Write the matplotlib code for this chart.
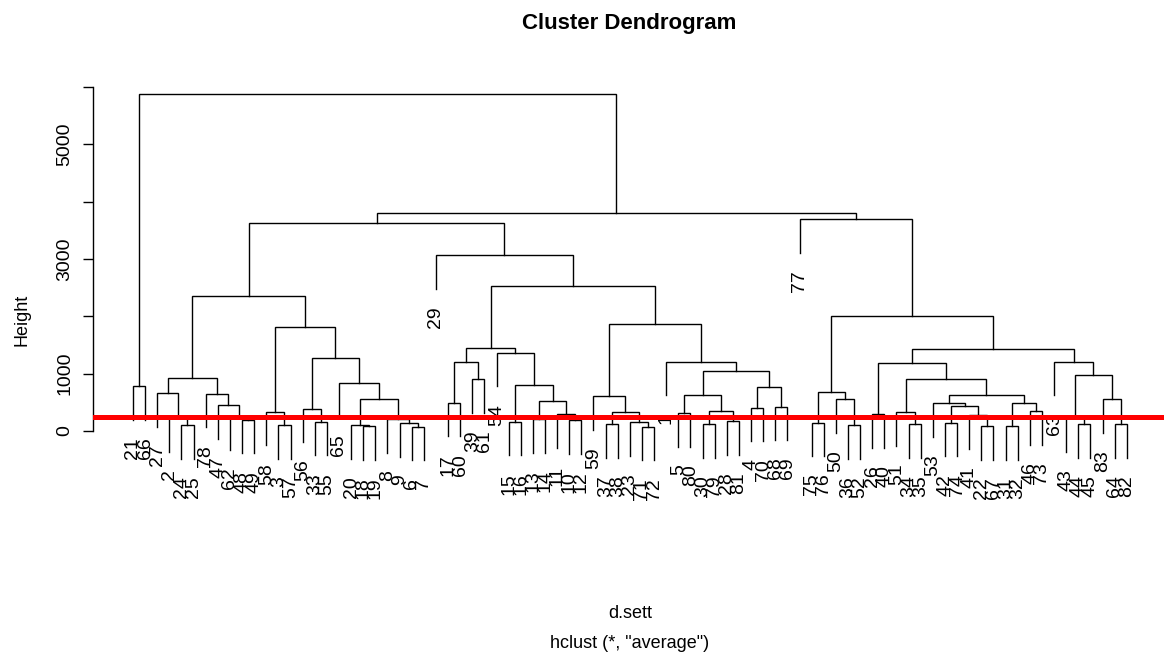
import matplotlib
matplotlib.use("Agg")
import matplotlib.pyplot as plt

plt.rcParams['font.family'] = ['Liberation Sans', 'DejaVu Sans']

# hclust merge table (R convention): negative = observation number,
# positive = earlier merge row (1-based); heights from average linkage.
merge_left = [
    -24, -2, -27, -48, -62, -47, -78, 3, -21, -3,
    -58, -33, -56, -18, -20, -6, -9, -8, 15, -65,
    13, 11, 8, -17, -39, 24, -15, -13, -10, -11,
    28, 27, -54, 26, -37, -71, -23, 35, -59, -5,
    -30, -28, 41, 40, -4, -68, 45, 44, -1, 39,
    34, -29, 23, -75, -36, -50, 54, -26, -34, -51,
    -42, -22, -41, 61, -53, -31, -46, 66, 65, 60,
    58, -44, -43, -64, -83, 73, -63, 71, 57, -77,
    53, 9,
]
merge_right = [
    -25, 1, 2, -49, 4, 5, 6, 7, -66, -57,
    10, -55, 12, -19, 14, -7, 16, 17, 18, 19,
    20, 21, 22, -60, -61, 25, -16, -14, -12, 29,
    30, 31, 32, 33, -38, -72, 36, 37, 38, -80,
    -79, -81, 42, 43, -70, -69, 46, 47, 48, 49,
    50, 51, 52, -76, -52, 55, 56, -40, -35, 59,
    -74, -67, 62, 63, 64, -32, -73, 67, 68, 69,
    70, -45, 72, -82, 74, 75, 76, 77, 78, 79,
    80, 81,
]
merge_height = [
    105, 228, 655, 198, 262, 449, 650, 930, 785, 105,
    337, 163, 393, 88, 100, 76, 140, 210, 559, 833,
    1279, 1814, 2355, 494, 908, 1209, 163, 210, 193, 292,
    529, 803, 1366, 1443, 123, 76, 153, 327, 611, 310,
    123, 175, 350, 629, 407, 425, 763, 1052, 1209, 1861,
    2529, 3069, 3627, 146, 105, 554, 681, 297, 123, 327,
    146, 88, 280, 442, 484, 88, 350, 494, 629, 908,
    1181, 123, 222, 123, 559, 977, 1209, 1425, 2006, 3697,
    3802, 5878,
]
cut_height = 250
hang = 0.1

y_ticks = [0, 1000, 2000, 3000, 4000, 5000, 6000]
y_tick_labels = ['0', '1000', '', '3000', '', '5000', '']

n_merge = len(merge_height)
n_obs = n_merge + 1

# leaf order from a left-to-right walk of the tree
order = []


def walk(row):
    for child in (merge_left[row - 1], merge_right[row - 1]):
        if child < 0:
            order.append(-child)
        else:
            walk(child)


walk(n_merge)
leaf_pos = {obs: i + 1 for i, obs in enumerate(order)}

W, H = 1164, 657
fig = plt.figure(figsize=(W / 100, H / 100), dpi=100)

# plot region in pixels
x_left_px, x_right_px = 93.2, 1166.5
ylo, yhi = -1000, 6100
y0_px, px_per_unit = 431.05, 0.05735
top_px = y0_px - px_per_unit * yhi
bot_px = y0_px - px_per_unit * ylo
ax = fig.add_axes([x_left_px / W, 1 - bot_px / H,
                   (x_right_px - x_left_px) / W, (bot_px - top_px) / H])
pad = 0.04 * (n_obs - 1)
ax.set_xlim(1 - pad, n_obs + pad)
ax.set_ylim(ylo, yhi)

hang_len = hang * max(merge_height)
node_x = {}
lw = 1.0
for k in range(1, n_merge + 1):
    a, b, h = merge_left[k - 1], merge_right[k - 1], merge_height[k - 1]
    xs, ys = [], []
    for child in (a, b):
        if child < 0:
            cx = leaf_pos[-child]
            cy = h - hang_len
            ax.annotate(str(-child), (cx, cy), xytext=(0, -12.5),
                        textcoords='offset points', rotation=90,
                        ha='center', va='top', fontsize=14, color='black',
                        annotation_clip=False)
        else:
            cx = node_x[child]
            cy = merge_height[child - 1]
        xs.append(cx)
        ys.append(cy)
    node_x[k] = (xs[0] + xs[1]) / 2
    ax.plot([xs[0], xs[0], xs[1], xs[1]], [ys[0], h, h, ys[1]],
            color='black', lw=lw, solid_joinstyle='miter', clip_on=False)

ax.axhline(cut_height, color='#ff0000', lw=3.6, zorder=5)

for s in ('top', 'right', 'bottom'):
    ax.spines[s].set_visible(False)
ax.spines['left'].set_bounds(0, 6000)
ax.spines['left'].set_linewidth(1.0)
ax.set_xticks([])
ax.set_yticks(y_ticks)
ax.set_yticklabels(y_tick_labels, rotation=90, va='center', fontsize=14)
ax.tick_params(axis='y', length=7.2, width=1.0, pad=7)
ax.patch.set_visible(False)

fig.text(629 / W, 1 - 24 / H, 'Cluster Dendrogram', ha='center', va='center',
         fontsize=16, fontweight='bold')
fig.text(630 / W, 1 - 614 / H, 'd.sett', ha='center', va='center', fontsize=13)
fig.text(630 / W, 1 - 643 / H, 'hclust (*, "average")', ha='center',
         va='center', fontsize=13)
fig.text(22 / W, 1 - 320 / H, 'Height', ha='center', va='center',
         rotation=90, fontsize=13)

fig.savefig('out.png', dpi=100)
